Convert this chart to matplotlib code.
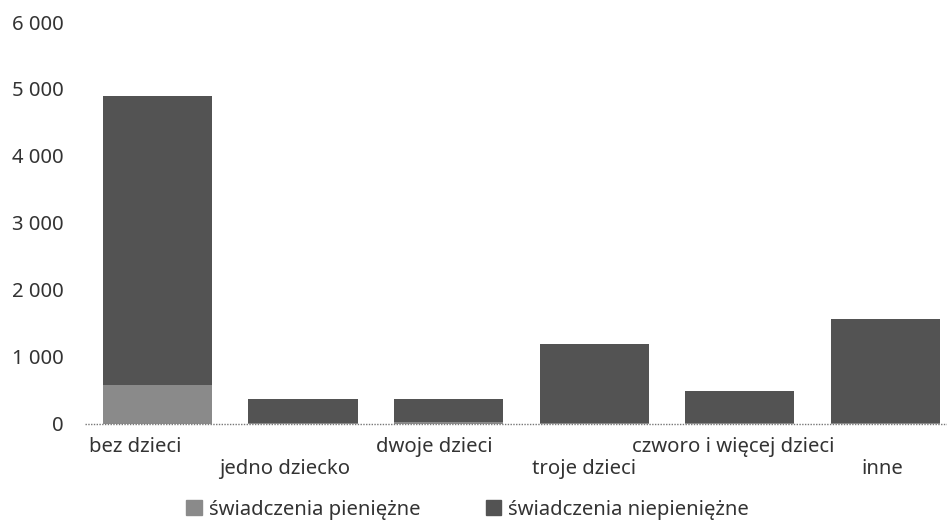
import matplotlib

matplotlib.use("Agg")
import matplotlib.pyplot as plt
import numpy as np
from matplotlib.patches import Patch

categories = ["bez dzieci", "jedno dziecko", "dwoje dzieci", "troje dzieci",
              "czworo i więcej dzieci", "inne"]
pieniezne = [580, 20, 25, 15, 10, 10]
niepieniezne = [4320, 350, 340, 1175, 480, 1550]
yticks = [0, 1000, 2000, 3000, 4000, 5000, 6000]
ytick_labels = ["0", "1 000", "2 000", "3 000", "4 000", "5 000", "6 000"]

LIGHT = "#8a8a8a"
DARK = "#535353"
TEXT = "#333333"
FS = 14.6

plt.rcParams["font.family"] = ["Noto Sans", "DejaVu Sans"]

fig = plt.figure(figsize=(9.47, 5.24), dpi=100)
ax = fig.add_axes([0.0894, 0.191, 0.9225, 0.767])

x = np.arange(len(categories))
ax.bar(x, pieniezne, width=0.75, color=LIGHT, zorder=2)
ax.bar(x, niepieniezne, width=0.75, bottom=pieniezne, color=DARK, zorder=2)

ax.set_xlim(-0.5, len(categories) - 0.5)
ax.set_ylim(0, 6000)
ax.set_yticks(yticks, ytick_labels, fontsize=FS, color=TEXT)
ax.tick_params(axis="y", length=0, pad=15)
ax.set_xticks([])
for spine in ax.spines.values():
    spine.set_visible(False)
ax.axhline(0, color="#777777", lw=1.0, ls=(0, (1, 1)), zorder=3, clip_on=False)

# staggered category labels
label_pos = x * 1.026 - 0.15
for i, (pos, name) in enumerate(zip(label_pos, categories)):
    y = -0.057 if i % 2 == 0 else -0.112
    ax.text(pos, y, name, transform=ax.get_xaxis_transform(), ha="center",
            va="center", fontsize=FS, color=TEXT)

handles = [Patch(color=LIGHT, label="świadczenia pieniężne"),
           Patch(color=DARK, label="świadczenia niepieniężne")]
fig.legend(handles=handles, loc="center", bbox_to_anchor=(0.494, 0.027), ncol=2,
           frameon=False, fontsize=FS, handlelength=0.75, handleheight=0.75,
           handletextpad=0.35, columnspacing=3.25, labelcolor=TEXT)

fig.savefig("out.png", dpi=100)
